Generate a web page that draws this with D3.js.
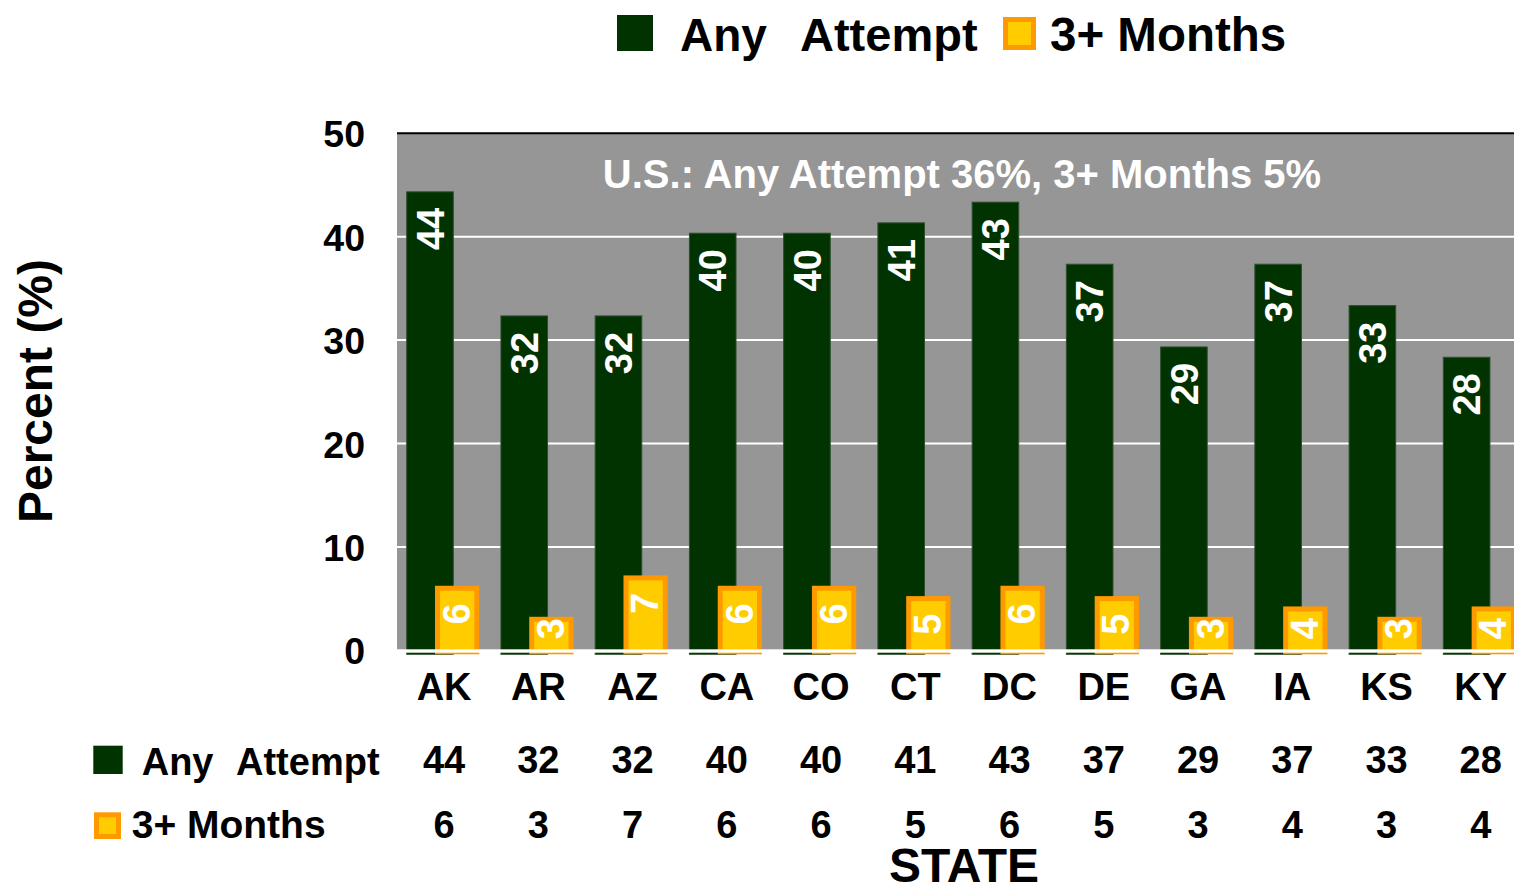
<!DOCTYPE html>
<html>
<head>
<meta charset="utf-8">
<script src="https://cdn.jsdelivr.net/npm/d3@7"></script>
<style>
html,body{margin:0;padding:0;background:#fff;overflow:hidden;}
text{font-family:"Liberation Sans",Arial,sans-serif;font-weight:bold;}
</style>
</head>
<body>
<div id="chart"></div>
<script>
// data
const states = ["AK","AR","AZ","CA","CO","CT","DC","DE","GA","IA","KS","KY"];
const anyAttempt = [44,32,32,40,40,41,43,37,29,37,33,28];
const threeMonths = [6,3,7,6,6,5,6,5,3,4,3,4];
const yTicks = [0,10,20,30,40,50];
const seriesNames = ["Any  Attempt","3+ Months"];
const usNote = "U.S.: Any Attempt 36%, 3+ Months 5%";

const W = 1514, H = 886;
const plotLeft = 397, plotTop = 133.3, base = 650.3;
const band = 94.24;
const dark = "#003300", gold = "#FFCC00", amber = "#FF9900", grey = "#969696";

const svg = d3.select("#chart").append("svg")
  .attr("width", W).attr("height", H);

const x = d3.scaleBand().domain(states).range([plotLeft, plotLeft + band*states.length]).padding(0);
const y = d3.scaleLinear().domain([0,50]).range([base, plotTop]);

// plot background
svg.append("rect").attr("x", plotLeft).attr("y", plotTop).attr("width", W-plotLeft).attr("height", base-plotTop).attr("fill", grey);

// gridlines
svg.append("g").selectAll("line").data(yTicks.filter(d => d>0 && d<50)).join("line")
  .attr("x1", plotLeft).attr("x2", W)
  .attr("y1", d => y(d)).attr("y2", d => y(d))
  .attr("stroke", "#fff").attr("stroke-width", 2);
svg.append("line").attr("x1", plotLeft).attr("x2", W).attr("y1", y(50)).attr("y2", y(50))
  .attr("stroke", "#000").attr("stroke-width", 2);

// y axis labels
const yAxis = svg.append("g").attr("transform", `translate(${plotLeft},0)`)
  .call(d3.axisLeft(y).tickValues(yTicks).tickSize(0).tickPadding(32));
yAxis.select(".domain").remove();
yAxis.selectAll("text").attr("font-size", 37.5).attr("fill", "#000")
  .attr("font-family", "Liberation Sans, Arial, sans-serif").attr("font-weight", "bold")
  .attr("dy", "0.36em");

// US note
svg.append("text").attr("x", 962).attr("y", 188).attr("text-anchor", "middle")
  .attr("font-size", 40).attr("fill", "#fff").text(usNote);

// bars
const lift = 3.5;
svg.append("g").selectAll("rect").data(states).join("rect")
  .attr("x", d => x(d) + 9.7)
  .attr("width", 46.6)
  .attr("y", (d,i) => y(anyAttempt[i]) - lift)
  .attr("height", (d,i) => base + 4 - y(anyAttempt[i]) + lift)
  .attr("fill", dark).attr("stroke", "#2e4f2e").attr("stroke-width", 1);

svg.append("g").selectAll("rect").data(states).join("rect")
  .attr("x", d => x(d) + 40.5)
  .attr("width", 39.3)
  .attr("y", (d,i) => y(threeMonths[i]))
  .attr("height", (d,i) => base + 1.5 - y(threeMonths[i]))
  .attr("fill", gold).attr("stroke", amber).attr("stroke-width", 5);

// axis line (white) over bar bottoms
svg.append("rect").attr("x", plotLeft).attr("y", base - 1).attr("width", W-plotLeft).attr("height", 3.4).attr("fill", "#fff");

// bar labels, rotated
const fs = 38, capH = 0.716*fs;
svg.append("g").selectAll("text").data(states).join("text")
  .attr("transform", (d,i) => {
    const cx = x(d) + 9.7 + 23.3 + capH/2;
    const ty = y(anyAttempt[i]) - lift + 16;
    return `translate(${cx},${ty}) rotate(-90)`;
  })
  .attr("text-anchor", "end").attr("font-size", fs).attr("fill", "#fff")
  .text((d,i) => anyAttempt[i]);

svg.append("g").selectAll("text").data(states).join("text")
  .attr("transform", (d,i) => {
    const cx = x(d) + 60.2 + capH/2 - 1;
    const len = String(threeMonths[i]).length * 0.556 * fs;
    const ty = Math.min(y(threeMonths[i]) + 15, base - 11 - len);
    return `translate(${cx},${ty}) rotate(-90)`;
  })
  .attr("text-anchor", "end").attr("font-size", fs).attr("fill", "#fff")
  .text((d,i) => threeMonths[i]);

// category labels
const xAxis = svg.append("g").attr("transform", `translate(0,${base})`)
  .call(d3.axisBottom(x).tickSize(0).tickPadding(0));
xAxis.select(".domain").remove();
xAxis.selectAll("text").attr("font-size", 38).attr("fill", "#000")
  .attr("font-family", "Liberation Sans, Arial, sans-serif").attr("font-weight", "bold")
  .attr("y", 50).attr("dy", 0);

// data table
const rows = [anyAttempt, threeMonths];
const rowBase = [773, 838];
rows.forEach((vals, r) => {
  svg.append("g").selectAll("text").data(states).join("text")
    .attr("x", d => x(d) + band/2)
    .attr("y", rowBase[r])
    .attr("text-anchor", "middle").attr("font-size", 38).attr("fill", "#000")
    .text((d,i) => vals[i]);
});
svg.append("rect").attr("x", 93.3).attr("y", 745.7).attr("width", 29.4).attr("height", 28.3).attr("fill", dark);
svg.append("text").attr("x", 141.7).attr("y", 775).attr("font-size", 38).text("Any");
svg.append("text").attr("x", 236).attr("y", 775).attr("font-size", 38).text("Attempt");
svg.append("rect").attr("x", 96.5).attr("y", 814.8).attr("width", 22).attr("height", 21.7)
  .attr("fill", gold).attr("stroke", amber).attr("stroke-width", 5);
svg.append("text").attr("x", 131.7).attr("y", 838).attr("font-size", 39).text(seriesNames[1]);

// axis titles
svg.append("text").attr("x", 964).attr("y", 882).attr("text-anchor", "middle").attr("font-size", 48).text("STATE");
svg.append("text").attr("transform", "translate(52,391) rotate(-90)").attr("text-anchor", "middle")
  .attr("font-size", 48).text("Percent (%)");

// top legend
svg.append("rect").attr("x", 617).attr("y", 15).attr("width", 36).attr("height", 36).attr("fill", dark);
svg.append("text").attr("x", 680).attr("y", 51).attr("font-size", 46).text("Any");
svg.append("text").attr("x", 800).attr("y", 51).attr("font-size", 47).text("Attempt");
svg.append("rect").attr("x", 1005.5).attr("y", 19.5).attr("width", 28).attr("height", 28)
  .attr("fill", gold).attr("stroke", amber).attr("stroke-width", 5);
svg.append("text").attr("x", 1050).attr("y", 51).attr("font-size", 47.5).text(seriesNames[1]);
</script>
</body>
</html>
